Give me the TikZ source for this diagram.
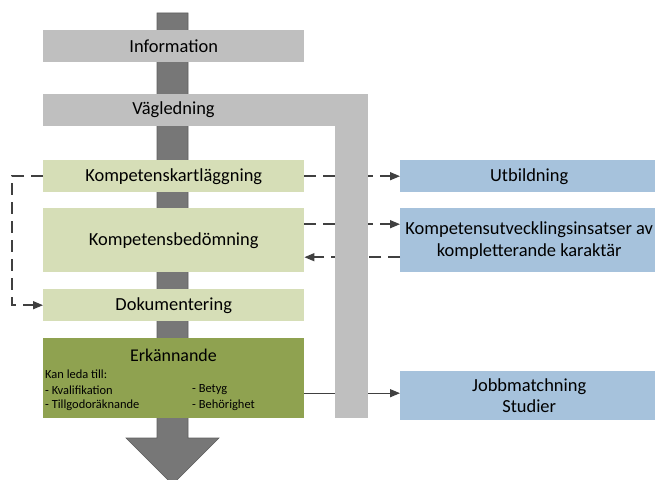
\documentclass[tikz,border=0pt]{standalone}
\usepackage{fontspec}
\setmainfont{Carlito}
\usepackage{tikz}
\usetikzlibrary{arrows.meta}

\definecolor{bargrey}{RGB}{191,191,191}
\definecolor{shaftgrey}{RGB}{119,119,119}
\definecolor{lightgreen}{RGB}{214,222,183}
\definecolor{olive}{RGB}{143,162,80}
\definecolor{lightblue}{RGB}{166,194,220}
\definecolor{linegrey}{RGB}{64,64,64}

\tikzset{
  box/.style={anchor=north west, inner sep=0pt, minimum width=261bp, minimum height=32bp, font=\fontsize{18.5}{22}\selectfont},
  greybox/.style={box, fill=bargrey},
  greenbox/.style={box, fill=lightgreen},
  bluebox/.style={box, fill=lightblue, minimum width=258bp, align=center},
  small/.style={anchor=west, inner sep=0pt, font=\fontsize{12.5}{14}\selectfont},
  dashflow/.style={line width=1.5bp, linegrey, dash pattern=on 12bp off 7bp, -{Triangle[length=10bp,width=8bp]}},
  flow/.style={line width=1.3bp, linegrey, -{Triangle[length=10bp,width=8bp]}}
}

\begin{document}
\begin{tikzpicture}[x=1bp, y=-1bp]
\useasboundingbox (0,0) rectangle (655,480);

\draw[fill=shaftgrey, draw=shaftgrey!80!black, line width=0.6bp] (157,13) to (188,13) to (188,438) to (219,438) to (172.5,484.5) to (126,438) to (157,438) to cycle;

\node [greybox] (info) at (43,30) {Information};
\fill[bargrey] (43,94) rectangle (368,126);
\node [font=\fontsize{18.5}{22}\selectfont] (vag) at (173.5,110) {Vägledning};

\node [greenbox] (kart) at (43,160) {Kompetenskartläggning};
\node [greenbox, minimum height=64bp] (bed) at (43,208) {Kompetensbedömning};
\node [greenbox] (dok) at (43,289) {Dokumentering};
\node [box, fill=olive, minimum height=80bp] (erk) at (43,338) {};

\node [font=\fontsize{18}{21}\selectfont] (erktitle) at (173.5,355) {Erkännande};
\node [small] (kan) at (45,374) {Kan leda till:};
\node [small] (kval) at (45,390) {- Kvalifikation};
\node [small] (tillg) at (45,405) {- Tillgodoräknande};
\node [small] (betyg) at (192,390) {- Betyg};
\node [small] (behor) at (192,405) {- Behörighet};

\node [bluebox] (utb) at (400,160) {Utbildning};
\node [bluebox, minimum height=64bp] (komp) at (400,208) {Kompetensutvecklingsinsatser av\\kompletterande karaktär};
\node [bluebox, minimum height=49bp] (jobb) at (400,371) {Jobbmatchning\\Studier};

\draw[dashflow] (kart.east) to (utb.west);
\draw[dashflow] ([yshift=16bp]bed.east) to ([yshift=16bp]komp.west);
\draw[dashflow] ([yshift=-17bp]komp.west) to ([yshift=-17bp]bed.east);
\draw[dashflow] (kart.west) to ++(-31,0) |- (dok.west);

\coordinate (erkout) at ([yshift=-15bp]erk.east);
\draw[flow] (erkout) to (erkout -| jobb.west);

\fill[bargrey] (335,126) rectangle (368,418);

\end{tikzpicture}
\end{document}
